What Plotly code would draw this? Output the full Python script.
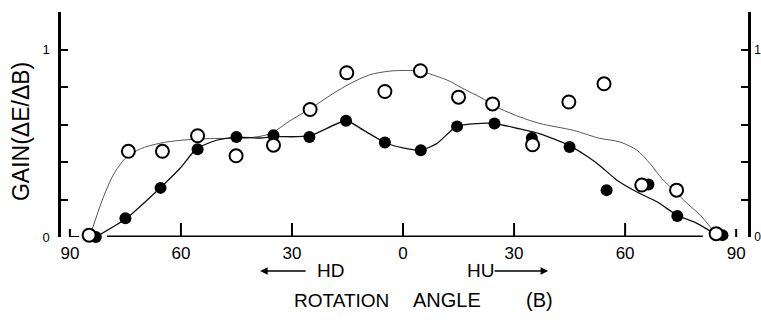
import plotly.graph_objects as go

# ---- data ----
# filled circles
filled_x = [-83, -75, -65.5, -55.5, -45, -35, -25.3, -15.4, -4.9, 4.8, 14.6, 24.7, 34.8, 45, 55, 66.3, 74.1, 86.3]
filled_y = [0.0, 0.10, 0.262, 0.468, 0.533, 0.543, 0.533, 0.62, 0.504, 0.463, 0.59, 0.605, 0.528, 0.48, 0.25, 0.28, 0.112, 0.01]
# open circles
open_x = [-84.8, -74.2, -65, -55.5, -45.1, -35, -25.1, -15.2, -4.9, 4.7, 15, 24.2, 35, 44.8, 54.3, 64.5, 73.9, 84.6]
open_y = [0.01, 0.457, 0.457, 0.54, 0.433, 0.49, 0.68, 0.876, 0.776, 0.887, 0.746, 0.71, 0.492, 0.72, 0.817, 0.277, 0.25, 0.018]
# smooth curve through open circles (traced)
open_curve_x = [-84.5, -81, -78.3, -75, -71, -65.7, -60, -52, -42, -36, -30.5, -25, -19, -14.3, -9, -3.5, 1, 4.6, 9, 12.5, 15.4, 20.8, 26.2, 31.6, 37, 46, 53, 58.6, 63.2, 66.8, 70, 72.6, 76.7, 80.3, 84.5]
open_curve_y = [0.01, 0.21, 0.33, 0.42, 0.47, 0.50, 0.516, 0.525, 0.528, 0.55, 0.62, 0.685, 0.764, 0.818, 0.865, 0.885, 0.888, 0.885, 0.858, 0.832, 0.80, 0.746, 0.685, 0.64, 0.605, 0.569, 0.527, 0.507, 0.463, 0.39, 0.31, 0.26, 0.18, 0.117, 0.015]
# curve through filled circles (traced)
filled_curve_x = [-83, -74.7, -65.7, -60.3, -55.8, -50.4, -45, -38.6, -35, -25.3, -15.4, -10.7, -4.9, 0, 4.8, 9.1, 14.5, 19.9, 24.9, 30.7, 37, 44.7, 50.5, 53.2, 57.8, 63.2, 68.6, 74, 79.4, 84]
filled_curve_y = [0.0, 0.10, 0.26, 0.365, 0.47, 0.516, 0.533, 0.528, 0.535, 0.539, 0.62, 0.57, 0.504, 0.475, 0.463, 0.498, 0.59, 0.605, 0.605, 0.58, 0.55, 0.49, 0.42, 0.38, 0.303, 0.24, 0.188, 0.117, 0.073, 0.02]

x_tickvals = [-90, -60, -30, 0, 30, 60, 90]
x_ticktext = ["90", "60", "30", "0", "30", "60", "90"]
y_tickvals = [0, 0.2, 0.4, 0.6, 0.8, 1.0]
y_ticktext = ["0", "", "", "", "", "1"]

FONT = "Liberation Sans"
X_RANGE = [-92.4, 93.2]
Y_RANGE = [0, 1.2]
PLOT_H = 320 - 12 - 83
PX_PER_UNIT = PLOT_H / (Y_RANGE[1] - Y_RANGE[0])

# upward tick marks of the angle axis, built from the tick list
tick_x, tick_y = [], []
for v in x_tickvals:
    tick_px = 8 if abs(v) == 90 else 14
    tick_x += [v, v, None]
    tick_y += [0, tick_px / PX_PER_UNIT, None]
# small foot at the left 90 tick
tick_x += [-90, -87.5, None]
tick_y += [0, 0, None]

fig = go.Figure()
fig.add_trace(go.Scatter(x=tick_x, y=tick_y, mode="lines",
                         line=dict(color="black", width=2),
                         hoverinfo="skip", cliponaxis=False))
fig.add_trace(go.Scatter(x=open_curve_x, y=open_curve_y, mode="lines",
                         line=dict(color="#444", width=0.9, shape="spline", smoothing=0.8),
                         hoverinfo="skip", cliponaxis=False))
fig.add_trace(go.Scatter(x=filled_curve_x, y=filled_curve_y, mode="lines",
                         line=dict(color="#111", width=1.3, shape="spline", smoothing=0.6),
                         hoverinfo="skip", cliponaxis=False))
fig.add_trace(go.Scatter(x=filled_x, y=filled_y, mode="markers",
                         marker=dict(symbol="circle", size=12, color="black", line=dict(width=0)),
                         cliponaxis=False))
fig.add_trace(go.Scatter(x=open_x, y=open_y, mode="markers",
                         marker=dict(symbol="circle", size=13, color="white", line=dict(width=2, color="black")),
                         cliponaxis=False))
# invisible trace on the right-hand y axis
fig.add_trace(go.Scatter(x=[X_RANGE[0]], y=[Y_RANGE[0]], yaxis="y2",
                         mode="markers", marker=dict(opacity=0), hoverinfo="skip"))

fig.update_layout(
    width=761, height=320,
    margin=dict(l=61, r=13, t=12, b=83, autoexpand=False),
    paper_bgcolor="white", plot_bgcolor="white",
    showlegend=False,
    font=dict(family=FONT, color="black"),
    xaxis=dict(range=X_RANGE, showgrid=False, zeroline=False, showline=False,
               automargin=False,
               tickmode="array", tickvals=x_tickvals, ticktext=x_ticktext,
               ticks="", tickfont=dict(size=17, family=FONT), ticklabelstandoff=4),
    yaxis=dict(range=Y_RANGE, showgrid=False, zeroline=False, showline=True,
               automargin=False,
               linewidth=2.5, linecolor="black", tickmode="array",
               tickvals=y_tickvals, ticktext=y_ticktext,
               ticks="inside", ticklen=7, tickwidth=2, tickcolor="black",
               tickfont=dict(size=13, family=FONT), ticklabelstandoff=6),
    yaxis2=dict(range=Y_RANGE, overlaying="y", side="right", anchor="x",
                automargin=False,
                showgrid=False, zeroline=False, showline=True, linewidth=2.5,
                linecolor="black", tickmode="array", tickvals=y_tickvals, ticktext=y_ticktext,
                ticks="inside", ticklen=7, tickwidth=2, tickcolor="black",
                tickfont=dict(size=12, family=FONT), ticklabelstandoff=1),
)

# baseline (x axis line)
fig.add_shape(type="line", xref="x", yref="y", x0=-80, x1=81, y0=0, y1=0,
              line=dict(color="black", width=3))

ann = []
ann.append(dict(text="GAIN(ΔE/ΔB)", xref="paper", yref="paper", x=-0.058, y=0.467,
                textangle=-90, showarrow=False, font=dict(size=23, family=FONT),
                xanchor="center", yanchor="middle"))
ann.append(dict(text="HD", xref="x", yref="paper", x=-19.7, y=-0.151, showarrow=False,
                xanchor="center", yanchor="middle", font=dict(size=19, family=FONT)))
ann.append(dict(text="HU", xref="x", yref="paper", x=20.8, y=-0.151, showarrow=False,
                xanchor="center", yanchor="middle", font=dict(size=19, family=FONT)))
ann.append(dict(text="", xref="x", yref="paper", x=-38.6, y=-0.151, ax=47, ay=0,
                axref="pixel", ayref="pixel", showarrow=True, arrowhead=2,
                arrowsize=1, arrowwidth=1.5, arrowcolor="black"))
ann.append(dict(text="", xref="x", yref="paper", x=39.2, y=-0.151, ax=-55, ay=0,
                axref="pixel", ayref="pixel", showarrow=True, arrowhead=2,
                arrowsize=1, arrowwidth=1.5, arrowcolor="black"))
ann.append(dict(text="ROTATION", xref="x", yref="paper", x=-16.5, y=-0.28,
                xanchor="center", yanchor="middle",
                showarrow=False, font=dict(size=19, family=FONT)))
ann.append(dict(text="ANGLE", xref="x", yref="paper", x=12, y=-0.28,
                xanchor="center", yanchor="middle",
                showarrow=False, font=dict(size=20, family=FONT)))
ann.append(dict(text="(B)", xref="x", yref="paper", x=37, y=-0.28,
                xanchor="center", yanchor="middle",
                showarrow=False, font=dict(size=20, family=FONT)))
fig.update_layout(annotations=ann)

fig.write_html("out.html")
